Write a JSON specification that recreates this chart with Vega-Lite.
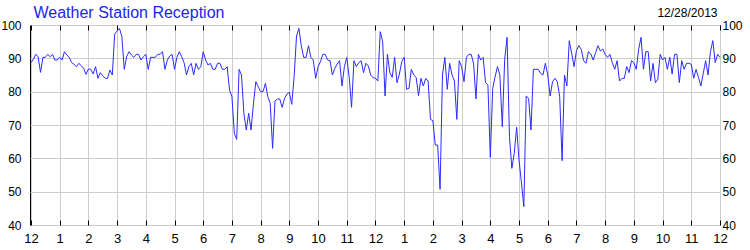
{"$schema":"https://vega.github.io/schema/vega-lite/v6.json","width":690,"height":200,"autosize":{"type":"none"},"padding":{"left":30,"top":25,"right":30,"bottom":25},"background":"white","config":{"view":{"stroke":"black","strokeWidth":1},"font":"Liberation Sans"},"data":{"values":[{"t":0,"v":88.7},{"t":5,"v":89.7},{"t":10,"v":91.2},{"t":15,"v":90.5},{"t":20,"v":85.8},{"t":25,"v":90.3},{"t":30,"v":90.3},{"t":35,"v":91.2},{"t":40,"v":90.5},{"t":45,"v":91.2},{"t":50,"v":89.5},{"t":55,"v":89.5},{"t":60,"v":90.3},{"t":65,"v":89.5},{"t":70,"v":92},{"t":75,"v":91},{"t":80,"v":90.3},{"t":85,"v":88.7},{"t":90,"v":88.2},{"t":95,"v":87.5},{"t":100,"v":88.5},{"t":105,"v":87.8},{"t":110,"v":87},{"t":115,"v":85.2},{"t":120,"v":86.8},{"t":125,"v":86.7},{"t":130,"v":85.3},{"t":135,"v":87.5},{"t":140,"v":84},{"t":145,"v":85.7},{"t":150,"v":84.8},{"t":155,"v":84},{"t":160,"v":84},{"t":165,"v":86.5},{"t":170,"v":85},{"t":175,"v":97.3},{"t":180,"v":98.2},{"t":185,"v":99},{"t":190,"v":96.5},{"t":195,"v":86.7},{"t":200,"v":90.5},{"t":205,"v":92},{"t":210,"v":91},{"t":215,"v":90.3},{"t":220,"v":91.2},{"t":225,"v":91.2},{"t":230,"v":89.5},{"t":235,"v":90.5},{"t":240,"v":91.2},{"t":245,"v":86.7},{"t":250,"v":90.3},{"t":255,"v":90.3},{"t":260,"v":90.3},{"t":265,"v":91.2},{"t":270,"v":91.2},{"t":275,"v":92},{"t":280,"v":86.7},{"t":285,"v":89.5},{"t":290,"v":90.7},{"t":295,"v":91.2},{"t":300,"v":86.7},{"t":305,"v":90.3},{"t":310,"v":92},{"t":315,"v":90.5},{"t":320,"v":88.7},{"t":325,"v":85},{"t":330,"v":87.5},{"t":335,"v":88.5},{"t":340,"v":85},{"t":345,"v":88.5},{"t":350,"v":86.7},{"t":355,"v":87.5},{"t":360,"v":92},{"t":365,"v":89.5},{"t":370,"v":88},{"t":375,"v":88.5},{"t":380,"v":86.7},{"t":385,"v":86.7},{"t":390,"v":88.5},{"t":395,"v":88.5},{"t":400,"v":86.7},{"t":405,"v":86.7},{"t":410,"v":87.5},{"t":415,"v":80.5},{"t":420,"v":78.5},{"t":425,"v":67.5},{"t":430,"v":65.7},{"t":435,"v":86.7},{"t":440,"v":85},{"t":445,"v":73.5},{"t":450,"v":68.5},{"t":455,"v":73.5},{"t":460,"v":68.5},{"t":465,"v":76.5},{"t":470,"v":83},{"t":475,"v":81.5},{"t":480,"v":80},{"t":485,"v":80},{"t":490,"v":82.5},{"t":495,"v":78.5},{"t":500,"v":76.5},{"t":505,"v":63},{"t":510,"v":77.2},{"t":515,"v":77.8},{"t":520,"v":77.8},{"t":525,"v":75.3},{"t":530,"v":78},{"t":535,"v":79.3},{"t":540,"v":79.8},{"t":545,"v":76.2},{"t":550,"v":84.5},{"t":555,"v":96.7},{"t":560,"v":99},{"t":565,"v":93.7},{"t":570,"v":90.3},{"t":575,"v":90.3},{"t":580,"v":93.8},{"t":585,"v":90.3},{"t":590,"v":89.5},{"t":595,"v":84},{"t":600,"v":87.5},{"t":605,"v":89},{"t":610,"v":91.2},{"t":615,"v":91.2},{"t":620,"v":89.5},{"t":625,"v":89.3},{"t":630,"v":85},{"t":635,"v":87},{"t":640,"v":88.3},{"t":645,"v":89.3},{"t":650,"v":81.7},{"t":655,"v":87.5},{"t":660,"v":90.3},{"t":665,"v":84.5},{"t":670,"v":75.3},{"t":675,"v":89.3},{"t":680,"v":87.5},{"t":685,"v":88.7},{"t":690,"v":89.3},{"t":695,"v":85.7},{"t":700,"v":88.5},{"t":705,"v":87.7},{"t":710,"v":85},{"t":715,"v":84.2},{"t":720,"v":84},{"t":725,"v":83.2},{"t":730,"v":98},{"t":735,"v":95},{"t":740,"v":78.7},{"t":745,"v":91.2},{"t":750,"v":85.7},{"t":755,"v":84.3},{"t":760,"v":90.3},{"t":765,"v":82.7},{"t":770,"v":85.3},{"t":775,"v":89},{"t":780,"v":90.3},{"t":785,"v":80.7},{"t":790,"v":81},{"t":795,"v":86.7},{"t":800,"v":85},{"t":805,"v":84.3},{"t":810,"v":78.8},{"t":815,"v":84},{"t":820,"v":81.7},{"t":825,"v":84},{"t":830,"v":83.2},{"t":835,"v":71.7},{"t":840,"v":71.3},{"t":845,"v":64},{"t":850,"v":64},{"t":855,"v":50.7},{"t":860,"v":85},{"t":865,"v":90.3},{"t":870,"v":80.7},{"t":875,"v":88.5},{"t":880,"v":85},{"t":885,"v":83.2},{"t":890,"v":71.7},{"t":895,"v":89.3},{"t":900,"v":87.5},{"t":905,"v":83},{"t":910,"v":90.3},{"t":915,"v":91.2},{"t":920,"v":91.2},{"t":925,"v":88.5},{"t":930,"v":77.8},{"t":935,"v":91.2},{"t":940,"v":89.5},{"t":945,"v":90.3},{"t":950,"v":82.7},{"t":955,"v":82},{"t":960,"v":60.3},{"t":965,"v":81},{"t":970,"v":84.5},{"t":975,"v":87.5},{"t":980,"v":85},{"t":985,"v":69.5},{"t":990,"v":89.7},{"t":995,"v":96.3},{"t":1000,"v":66.5},{"t":1005,"v":57},{"t":1010,"v":61.5},{"t":1015,"v":69.3},{"t":1020,"v":59.5},{"t":1025,"v":52.7},{"t":1030,"v":45.5},{"t":1035,"v":78.7},{"t":1040,"v":78},{"t":1045,"v":68.5},{"t":1050,"v":86.7},{"t":1055,"v":86.7},{"t":1060,"v":86.7},{"t":1065,"v":85.5},{"t":1070,"v":85},{"t":1075,"v":88.5},{"t":1080,"v":85},{"t":1085,"v":78.7},{"t":1090,"v":83},{"t":1095,"v":84},{"t":1100,"v":83},{"t":1105,"v":78.5},{"t":1110,"v":59.3},{"t":1115,"v":85},{"t":1120,"v":81.7},{"t":1125,"v":95.3},{"t":1130,"v":91.5},{"t":1135,"v":87.5},{"t":1140,"v":92.3},{"t":1145,"v":93.8},{"t":1150,"v":92.7},{"t":1155,"v":89.3},{"t":1160,"v":88.5},{"t":1165,"v":92},{"t":1170,"v":91.3},{"t":1175,"v":89.5},{"t":1180,"v":91.7},{"t":1185,"v":93.8},{"t":1190,"v":92.2},{"t":1195,"v":92.8},{"t":1200,"v":91.2},{"t":1205,"v":90.3},{"t":1210,"v":91.2},{"t":1215,"v":88.7},{"t":1220,"v":86.7},{"t":1225,"v":89.3},{"t":1230,"v":83.2},{"t":1235,"v":84},{"t":1240,"v":84},{"t":1245,"v":87.5},{"t":1250,"v":85.7},{"t":1255,"v":89.3},{"t":1260,"v":88.7},{"t":1265,"v":86.7},{"t":1270,"v":92.7},{"t":1275,"v":96.3},{"t":1280,"v":86.7},{"t":1285,"v":92},{"t":1290,"v":92},{"t":1295,"v":83.2},{"t":1300,"v":88.5},{"t":1305,"v":82.7},{"t":1310,"v":83.7},{"t":1315,"v":91.2},{"t":1320,"v":89.5},{"t":1325,"v":90.3},{"t":1330,"v":86.7},{"t":1335,"v":90.3},{"t":1340,"v":85.3},{"t":1345,"v":91.2},{"t":1350,"v":91.2},{"t":1355,"v":82.7},{"t":1360,"v":89.3},{"t":1365,"v":86.7},{"t":1370,"v":88.5},{"t":1375,"v":88.5},{"t":1380,"v":88.2},{"t":1385,"v":84},{"t":1390,"v":86.7},{"t":1395,"v":84.3},{"t":1400,"v":81.7},{"t":1405,"v":85.5},{"t":1410,"v":89.3},{"t":1415,"v":85},{"t":1420,"v":92},{"t":1425,"v":95.3},{"t":1430,"v":88.7},{"t":1435,"v":91.2},{"t":1440,"v":90.3}]},"layer":[{"mark":{"type":"line","color":"#2b2bff","strokeWidth":1},"encoding":{"x":{"field":"t","type":"quantitative","scale":{"domain":[-2,1440],"nice":false,"zero":false},"axis":{"orient":"bottom","values":[0,60,120,180,240,300,360,420,480,540,600,660,720,780,840,900,960,1020,1080,1140,1200,1260,1320,1380,1440],"labelExpr":"datum.value % 720 == 0 ? '12' : '' + (datum.value / 60) % 12","grid":true,"gridColor":"#cccccc","domain":false,"tickSize":-5,"tickColor":"black","labelPadding":12,"labelFontSize":13,"labelColor":"black","labelFlush":false,"labelOverlap":false,"title":null}},"y":{"field":"v","type":"quantitative","scale":{"domain":[40,100],"nice":false,"zero":false},"axis":{"orient":"left","values":[40,50,60,70,80,90,100],"grid":true,"gridColor":"#cccccc","domain":false,"ticks":false,"labelPadding":9,"labelFontSize":12,"labelColor":"black","title":null}}}},{"mark":{"type":"line","opacity":0},"encoding":{"x":{"field":"t","type":"quantitative","axis":{"orient":"top","values":[0,60,120,180,240,300,360,420,480,540,600,660,720,780,840,900,960,1020,1080,1140,1200,1260,1320,1380,1440],"labels":false,"grid":false,"domain":false,"tickSize":-5,"tickColor":"black","title":"Weather Station Reception","titleX":3,"titleY":-8,"titleAlign":"left","titleBaseline":"alphabetic","titleFontSize":16,"titleFontWeight":"normal","titleColor":"#2323f0","titleAnchor":"start"}},"y":{"field":"v","type":"quantitative","axis":{"orient":"right","values":[40,50,60,70,80,90,100],"grid":false,"domain":false,"ticks":false,"labelPadding":2,"labelFontSize":12,"labelColor":"black","title":"12/28/2013","titleAngle":0,"titleX":-3,"titleY":-9,"titleAlign":"right","titleBaseline":"alphabetic","titleFontSize":12,"titleFontWeight":"normal","titleColor":"black"}}}}],"resolve":{"axis":{"x":"independent","y":"independent"}}}
